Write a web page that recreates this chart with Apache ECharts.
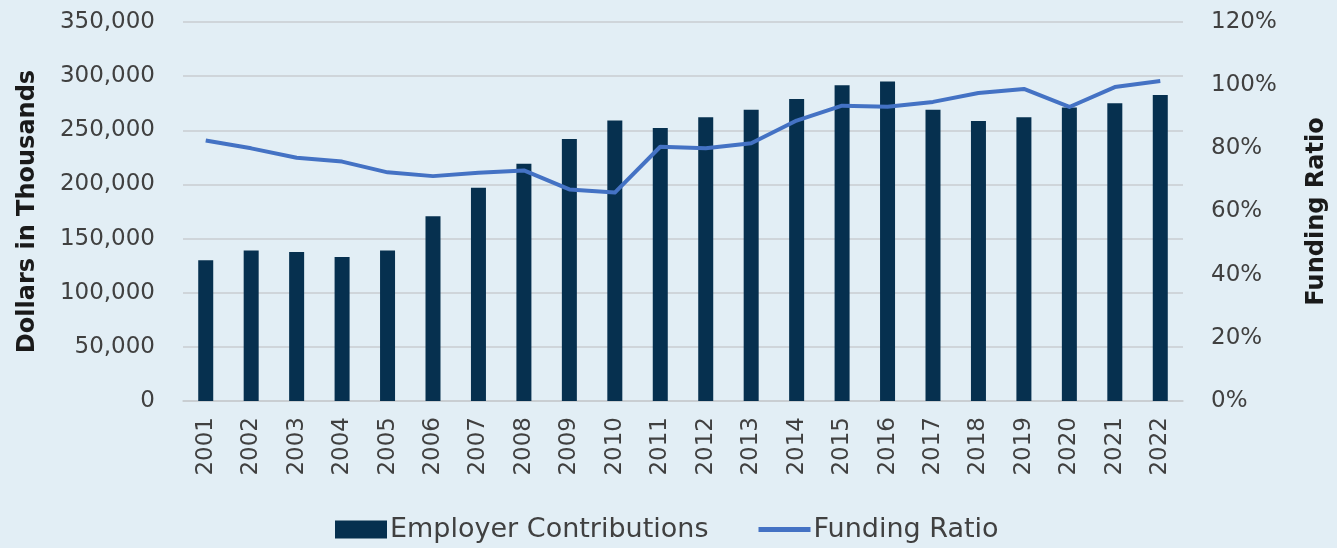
<!DOCTYPE html>
<html>
<head>
<meta charset="utf-8">
<script src="https://cdn.jsdelivr.net/npm/echarts@6/dist/echarts.min.js"></script>
<style>
  html, body { margin: 0; padding: 0; background: #e2eef5; }
  #chart { width: 1337px; height: 548px; }
</style>
</head>
<body>
<div id="chart"></div>
<script>
// years on the x axis
const years = ['2001', '2002', '2003', '2004', '2005', '2006', '2007', '2008', '2009', '2010', '2011',
  '2012', '2013', '2014', '2015', '2016', '2017', '2018', '2019', '2020', '2021', '2022']

// employer contributions, dollars in thousands
const contributions = [130000, 139000, 137500, 133000, 139000, 170500, 197000, 219000, 242000, 259000, 252000,
  262000, 269000, 279000, 291500, 295000, 269000, 258500, 262000, 271000, 275000, 282500]

// funding ratio, percent
const fundingRatio = [82.5, 80.0, 77.0, 75.8, 72.4, 71.2, 72.3, 73.0, 67.0, 66.0, 80.5,
  80.0, 81.6, 88.8, 93.5, 93.2, 94.7, 97.5, 98.8, 93.1, 99.4, 101.3]

const font = 'DejaVu Sans'
const textColor = '#404040'

const chart = echarts.init(document.getElementById('chart'))
chart.setOption({
  backgroundColor: '#e2eef5',
  animation: false,
  textStyle: { fontFamily: font },
  grid: { left: 183, right: 149, top: 22, bottom: 147 },
  legend: {
    bottom: 0,
    left: 330,
    itemWidth: 52,
    itemHeight: 18,
    itemGap: 50,
    textStyle: { fontFamily: font, fontSize: 27, color: textColor, padding: [0, 0, 0, -2] },
    data: [
      { name: 'Employer Contributions', icon: 'rect' },
      { name: 'Funding Ratio', icon: 'path://M0,0 L52,0 L52,5 L0,5 Z' }
    ]
  },
  xAxis: {
    type: 'category',
    data: years,
    axisLine: { lineStyle: { color: '#c8ccd0', width: 1.5 } },
    axisTick: { show: false },
    axisLabel: { rotate: 90, fontSize: 23, color: textColor, margin: 16, fontFamily: font }
  },
  yAxis: [
    {
      type: 'value',
      min: 0,
      max: 350000,
      interval: 50000,
      name: 'Dollars in Thousands',
      nameLocation: 'middle',
      nameGap: 143,
      nameRotate: 90,
      nameTextStyle: { fontSize: 24, fontWeight: 'bold', color: '#1a1a1a', fontFamily: font },
      axisLabel: {
        fontSize: 23, color: textColor, margin: 28, fontFamily: font,
        formatter: v => v.toLocaleString('en-US')
      },
      axisLine: { show: false },
      axisTick: { show: false },
      splitLine: { lineStyle: { color: '#c8ccd0', width: 1.5 } }
    },
    {
      type: 'value',
      min: 0,
      max: 120,
      interval: 20,
      name: 'Funding Ratio',
      nameLocation: 'middle',
      nameGap: 122,
      nameRotate: 90,
      nameTextStyle: { fontSize: 24, fontWeight: 'bold', color: '#1a1a1a', fontFamily: font },
      axisLabel: { fontSize: 23, color: textColor, margin: 28, fontFamily: font, formatter: '{value}%' },
      axisLine: { show: false },
      axisTick: { show: false },
      splitLine: { show: false }
    }
  ],
  series: [
    {
      name: 'Employer Contributions',
      type: 'bar',
      data: contributions,
      barWidth: 15,
      itemStyle: { color: '#06304f' }
    },
    {
      name: 'Funding Ratio',
      type: 'line',
      yAxisIndex: 1,
      data: fundingRatio,
      smooth: false,
      symbol: 'none',
      lineStyle: { color: '#4472c4', width: 4, join: 'round' },
      itemStyle: { color: '#4472c4' }
    }
  ]
})
</script>
</body>
</html>
